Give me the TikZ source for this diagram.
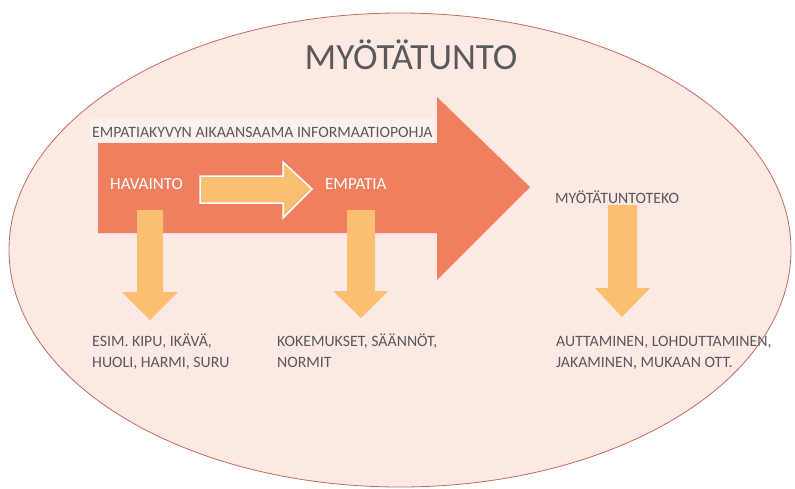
\documentclass[tikz,border=0pt]{standalone}
\usepackage{fontspec}
\setmainfont{Carlito}
\usepackage{tikz}
\usetikzlibrary{positioning}
\definecolor{bgpink}{HTML}{FDE9E4}
\definecolor{ringline}{HTML}{C46B5C}
\definecolor{bigorange}{HTML}{F07F5F}
\definecolor{lightorange}{HTML}{FCBF71}
\definecolor{textgray}{HTML}{595959}
\tikzset{%
  ring/.style      = {draw=ringline, line width=0.8pt, fill=bgpink}, % Ellipse
  bigarrow/.style  = {fill=bigorange}, % Main arrow
  flowarrow/.style = {fill=lightorange, draw=white, line width=1.5pt},
  droparrow/.style = {fill=lightorange},
  band/.style      = {fill=white!35!bgpink},
  graytext/.style  = {text=textgray, font=\fontsize{15.8}{21}\selectfont, inner sep=0pt},
  whitetext/.style = {text=white, font=\fontsize{17}{20}\selectfont, inner sep=0pt},
  bigtitle/.style  = {text=textgray, font=\fontsize{37}{40}\selectfont, inner sep=0pt}
}

\begin{document}
\begin{tikzpicture}[x=1pt, y=-1pt]

  \useasboundingbox (0,0) rectangle (795,488);

  \draw[ring] (400,250) ellipse [x radius=391, y radius=237];

  \draw node at (411,69) [bigtitle, anchor=base] (title) {MYÖTÄTUNTO};

  % big arrow with its band
  \fill[band] (90,119) rectangle (437,143);
  \fill[bigarrow] (98,143) -- (437,143) -- (437,97) -- (530,187)
    -- (437,280) -- (437,233) -- (98,233) -- cycle;
  \draw node at (92,137) [graytext, anchor=base west] (infobase)
    {EMPATIAKYVYN AIKAANSAAMA INFORMAATIOPOHJA};

  \draw node at (110,189) [whitetext, anchor=base west] (havainto) {HAVAINTO};
  \draw node at (325,189) [whitetext, anchor=base west] (empatia) {EMPATIA};

  \draw[flowarrow] (200,176) -- (283,176) -- (283,162) -- (312,189)
    -- (283,218) -- (283,203) -- (200,203) -- cycle;

  % down arrows
  \fill[droparrow] (137,210) -- (163,210) -- (163,292) -- (178,292)
    -- (150,320) -- (122,292) -- (137,292) -- cycle;
  \fill[droparrow] (347,210) -- (375,210) -- (375,291) -- (388,291)
    -- (361,318) -- (333,291) -- (347,291) -- cycle;
  \fill[droparrow] (608,205) -- (637,205) -- (637,288) -- (650,288)
    -- (622,317) -- (595,288) -- (608,288) -- cycle;

  \draw node at (555,203) [graytext, anchor=base west] (teko) {MYÖTÄTUNTOTEKO};

  \draw node at (92,367) [graytext, anchor=base west, align=left] (esim)
    {ESIM. KIPU, IKÄVÄ,\\HUOLI, HARMI, SURU};
  \draw node at (277,367) [graytext, anchor=base west, align=left] (kokemukset)
    {KOKEMUKSET, SÄÄNNÖT,\\NORMIT};
  \draw node at (556,367) [graytext, anchor=base west, align=left] (auttaminen)
    {AUTTAMINEN, LOHDUTTAMINEN,\\JAKAMINEN, MUKAAN OTT.};

\end{tikzpicture}
\end{document}
